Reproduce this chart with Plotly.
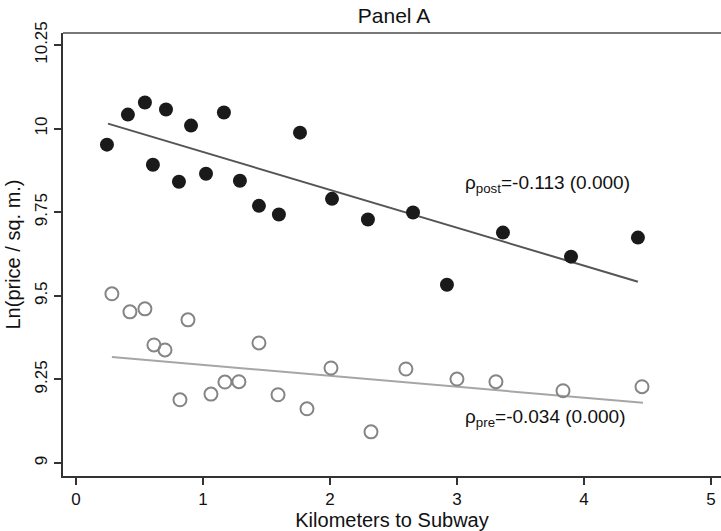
import plotly.graph_objects as go

# Post-period (filled) bin scatter
post_km = [0.244, 0.409, 0.543, 0.606, 0.709, 0.811, 0.906, 1.024, 1.165, 1.291,
           1.441, 1.598, 1.764, 2.016, 2.299, 2.654, 2.921, 3.362, 3.898, 4.425]
post_lnp = [9.952, 10.042, 10.078, 9.892, 10.057, 9.841, 10.009, 9.865, 10.048, 9.844,
            9.769, 9.743, 9.988, 9.790, 9.728, 9.749, 9.533, 9.689, 9.617, 9.674]

# Pre-period (hollow) bin scatter
pre_km = [0.283, 0.425, 0.543, 0.614, 0.701, 0.819, 0.882, 1.063, 1.173, 1.283,
          1.441, 1.591, 1.819, 2.008, 2.323, 2.598, 3.000, 3.307, 3.835, 4.457]
pre_lnp = [9.506, 9.452, 9.461, 9.353, 9.338, 9.189, 9.428, 9.206, 9.242, 9.243,
           9.359, 9.204, 9.162, 9.284, 9.093, 9.281, 9.251, 9.243, 9.216, 9.228]

# Fitted lines (endpoints)
post_fit_km = [0.252, 4.425]
post_fit_lnp = [10.015, 9.542]
pre_fit_km = [0.283, 4.465]
pre_fit_lnp = [9.317, 9.180]

x_ticks = [0, 1, 2, 3, 4, 5]
y_ticks = [9, 9.25, 9.5, 9.75, 10, 10.25]
y_tick_text = ["9", "9.25", "9.5", "9.75", "10", "10.25"]

post_label = "ρ<sub>post</sub>=-0.113 (0.000)"
pre_label = "ρ<sub>pre</sub>=-0.034 (0.000)"

FONT = "Liberation Sans, Arial, Helvetica, sans-serif"

fig = go.Figure()
fig.add_trace(go.Scatter(x=post_fit_km, y=post_fit_lnp, mode="lines",
                         line=dict(color="#555555", width=2), showlegend=False,
                         hoverinfo="skip"))
fig.add_trace(go.Scatter(x=pre_fit_km, y=pre_fit_lnp, mode="lines",
                         line=dict(color="#a6a6a6", width=2), showlegend=False,
                         hoverinfo="skip"))
fig.add_trace(go.Scatter(x=post_km, y=post_lnp, mode="markers",
                         marker=dict(color="#1a1a1a", size=14, line=dict(width=0)),
                         showlegend=False))
fig.add_trace(go.Scatter(x=pre_km, y=pre_lnp, mode="markers",
                         marker=dict(symbol="circle-open", color="#858585", size=13,
                                     line=dict(width=2)),
                         showlegend=False))

fig.add_annotation(x=3.05, y=9.835, text=post_label, showarrow=False,
                   xanchor="left", yanchor="middle",
                   font=dict(family=FONT, size=19, color="#111111"))
fig.add_annotation(x=3.05, y=9.135, text=pre_label, showarrow=False,
                   xanchor="left", yanchor="middle",
                   font=dict(family=FONT, size=19, color="#111111"))

# top border line
fig.add_shape(type="line", xref="paper", yref="paper", x0=0, x1=1, y0=1, y1=1,
              line=dict(color="#777777", width=2))

fig.update_layout(
    width=721, height=531,
    margin=dict(l=63, r=0, t=33, b=55),
    paper_bgcolor="white", plot_bgcolor="white",
    font=dict(family=FONT, color="#111111"),
    title=dict(text="Panel A", x=0.503, xanchor="center", xref="paper",
               y=1 - 16 / 531, yref="container", yanchor="middle",
               font=dict(family=FONT, size=21, color="#111111")),
    xaxis=dict(range=[-0.102, 5.079], tickvals=x_ticks, ticks="outside",
               ticklen=7, tickwidth=1.5, tickcolor="#333333",
               showline=True, linecolor="#333333", linewidth=2,
               showgrid=False, zeroline=False,
               tickfont=dict(family=FONT, size=17, color="#111111"),
               title=dict(text="Kilometers to Subway", standoff=8,
                          font=dict(family=FONT, size=20, color="#111111"))),
    yaxis=dict(range=[8.961, 10.286], tickvals=y_ticks, ticktext=y_tick_text,
               ticks="outside", ticklen=7, tickwidth=1.5, tickcolor="#333333",
               tickangle=-90,
               showline=True, linecolor="#333333", linewidth=2,
               showgrid=False, zeroline=False,
               tickfont=dict(family=FONT, size=17, color="#111111"),
               title=dict(text="Ln(price / sq. m.)", standoff=6,
                          font=dict(family=FONT, size=20, color="#111111"))),
)

fig.write_html("out.html")
